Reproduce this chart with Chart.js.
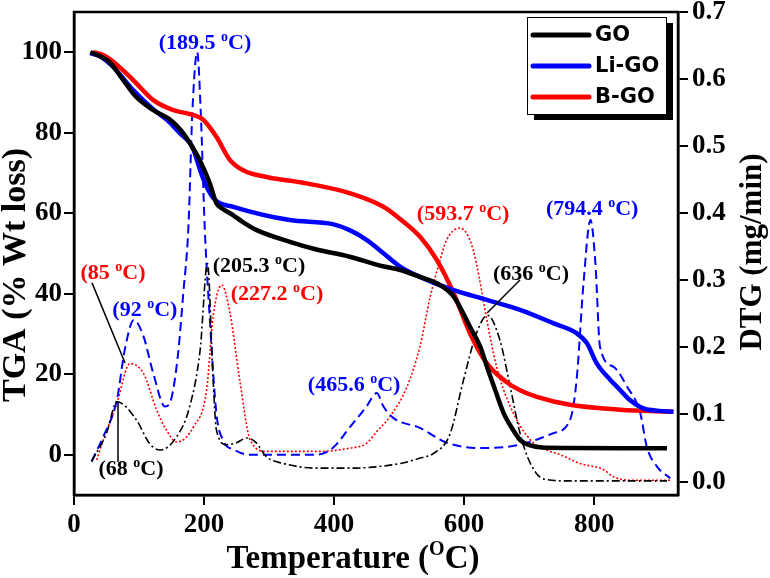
<!DOCTYPE html>
<html><head><meta charset="utf-8">
<script src="https://cdn.jsdelivr.net/npm/chart.js@4/dist/chart.umd.min.js"></script>
<style>html,body{margin:0;padding:0;background:#fff;} canvas{display:block;}</style>
</head><body>
<canvas id="c" width="770" height="578"></canvas>
<script>
// ---------- DATA ----------
const seriesNames = ['GO', 'Li-GO', 'B-GO'];
const xTicks = [0, 200, 400, 600, 800];
const tgaTicks = [0, 20, 40, 60, 80, 100];
const dtgTicks = [0.0, 0.1, 0.2, 0.3, 0.4, 0.5, 0.6, 0.7];

// TGA (% weight), left axis
const goT   = [25, 40, 55, 76, 95, 122, 150, 165, 178, 194, 209, 219, 228, 245, 258, 281, 332, 373, 424, 471, 502, 532, 558, 584, 609, 625, 635, 648, 661, 676, 686, 702, 720, 760, 912];
const goTGA = [100, 99, 97.5, 93, 89, 85.6, 83, 80.5, 77.5, 73, 67.4, 62.5, 61.2, 59.5, 58, 55.8, 52.9, 51, 49.2, 47, 45.9, 44.2, 42.6, 39.3, 31.8, 26.8, 21.9, 16, 10.3, 6, 3.7, 2.3, 1.8, 1.7, 1.6];

const liT   = [25, 40, 60, 91, 122, 143, 163, 178, 184, 194, 204, 217, 245, 332, 398, 424, 450, 475, 502, 532, 584, 635, 686, 737, 773, 789, 804, 825, 840, 855, 876, 900, 922];
const liTGA = [99.8, 99, 96.4, 90.6, 85.8, 83.2, 79.9, 77.5, 75.7, 70.7, 66.6, 63.3, 61.6, 58.3, 57.3, 55.8, 53.4, 50.2, 46.7, 44.2, 40.9, 38.5, 36, 32.7, 30.2, 27.7, 22.7, 18.6, 16.1, 13.6, 11.5, 10.9, 10.7];

const bT    = [29, 45, 60, 91, 122, 153, 184, 199, 219, 240, 260, 300, 348, 424, 476, 502, 532, 558, 584, 609, 635, 661, 686, 712, 763, 840, 922];
const bTGA  = [100, 99.3, 97.7, 93.1, 88.1, 85.6, 84.4, 83.2, 79, 73.2, 70.7, 68.9, 67.7, 65, 61.6, 58.5, 54.2, 48.4, 40.1, 30.2, 22.7, 18.6, 16, 14.4, 12.4, 11.2, 10.7];

// DTG (mg/min), right axis
const goDT  = [27, 50, 66, 96, 116, 132, 158, 178, 194, 205.3, 214, 219, 235, 250, 266, 280, 296, 322, 373, 424, 502, 532, 553, 578, 599, 619, 636, 655, 671, 686, 702, 722, 760, 912];
const goDTG = [0.03, 0.072, 0.119, 0.092, 0.057, 0.047, 0.067, 0.112, 0.196, 0.325, 0.151, 0.077, 0.055, 0.058, 0.065, 0.058, 0.037, 0.027, 0.020, 0.020, 0.027, 0.035, 0.042, 0.07, 0.151, 0.221, 0.248, 0.211, 0.141, 0.072, 0.027, 0.004, 0.001, 0.001];

const liDT  = [27, 45, 66, 78, 92, 107, 122, 140, 150, 160, 168, 176, 182, 189.5, 195, 201, 209, 219, 230, 245, 271, 373, 398, 425, 450, 465.6, 476, 491, 532, 573, 625, 686, 737, 763, 773, 784, 794.4, 802, 809, 830, 851, 871, 881, 897, 917];
const liDTG = [0.03, 0.067, 0.122, 0.196, 0.241, 0.216, 0.161, 0.112, 0.125, 0.19, 0.28, 0.38, 0.55, 0.64, 0.55, 0.38, 0.241, 0.102, 0.06, 0.048, 0.040, 0.040, 0.05, 0.082, 0.112, 0.132, 0.112, 0.095, 0.08, 0.058, 0.050, 0.055, 0.072, 0.092, 0.151, 0.30, 0.39, 0.325, 0.201, 0.171, 0.141, 0.102, 0.052, 0.022, 0.005];

const bDT   = [35, 45, 66, 86, 107, 127, 142, 158, 184, 204, 214, 227.2, 240, 255, 271, 296, 373, 425, 450, 466, 486, 512, 532, 548, 563, 573, 593.7, 609, 619, 635, 650, 671, 702, 727, 748, 778, 814, 830, 855, 917];
const bDTG  = [0.032, 0.062, 0.117, 0.176, 0.161, 0.107, 0.077, 0.059, 0.082, 0.137, 0.246, 0.293, 0.251, 0.151, 0.062, 0.045, 0.045, 0.050, 0.057, 0.075, 0.097, 0.141, 0.201, 0.276, 0.33, 0.36, 0.378, 0.36, 0.325, 0.241, 0.171, 0.112, 0.062, 0.047, 0.04, 0.027, 0.018, 0.007, 0.002, 0.002];

// peak annotations (text in data units: x = temperature, y = TGA axis)
const annoText  = ['(189.5 ', '(85 ', '(92 ', '(205.3 ', '(227.2 ', '(68 ', '(465.6 ', '(593.7 ', '(794.4 ', '(636 '];
const annoX     = [201.5, 60, 109, 284.6, 312.3, 87.7, 430.8, 598.5, 797, 703];
const annoY     = [102.5, 45.4, 36.2, 47.1, 40.2, -3.3, 17.6, 60.1, 61.3, 45.2];
const annoColor = ['#0000ff', '#ff0000', '#0000ff', '#000', '#ff0000', '#000', '#0000ff', '#ff0000', '#0000ff', '#000'];
// leader lines [x1, y1, x2, y2] in data units (TGA axis)
const leaderLines = [[27.7, 42.7, 78.5, 22.8], [67.7, -1.8, 67.7, 13.1], [686, 43.4, 635.4, 35.2]];

// ---------- CHART ----------
const SERIF = "'Liberation Serif','Times New Roman',serif";
const pts = (xs, ys) => xs.map((x, i) => ({ x: x, y: ys[i] }));
const BLACK = '#000000', BLUE = '#0000ff', RED = '#ff0000';

function supText(ctx, pre, sup, post, cx, cy, size, weight) {
  const f1 = weight + ' ' + size + 'px ' + SERIF;
  const f2 = weight + ' ' + Math.round(size * 0.62) + 'px ' + SERIF;
  ctx.font = f1; const w1 = ctx.measureText(pre).width; const w3 = ctx.measureText(post).width;
  ctx.font = f2; const w2 = ctx.measureText(sup).width;
  const tot = w1 + w2 + w3;
  let x = cx - tot / 2;
  const base = cy + size * 0.33;
  ctx.textAlign = 'left'; ctx.textBaseline = 'alphabetic';
  ctx.font = f1; ctx.fillText(pre, x, base); x += w1;
  ctx.font = f2; ctx.fillText(sup, x, base - size * 0.38); x += w2;
  ctx.font = f1; ctx.fillText(post, x, base);
}

const overlay = {
  id: 'overlay',
  afterDatasetsDraw(chart) {
    const ctx = chart.ctx, a = chart.chartArea;
    const xs = chart.scales.x, ys = chart.scales.y;
    ctx.save();
    ctx.strokeStyle = '#000'; ctx.lineWidth = 2.5;
    ctx.strokeRect(a.left, a.top, a.right - a.left, a.bottom - a.top);
    ctx.lineWidth = 1.5;
    leaderLines.forEach(l => {
      ctx.beginPath();
      ctx.moveTo(xs.getPixelForValue(l[0]), ys.getPixelForValue(l[1]));
      ctx.lineTo(xs.getPixelForValue(l[2]), ys.getPixelForValue(l[3]));
      ctx.stroke();
    });
    annoText.forEach((t, i) => {
      ctx.fillStyle = annoColor[i];
      supText(ctx, t, 'o', 'C)', xs.getPixelForValue(annoX[i]), ys.getPixelForValue(annoY[i]), 22, 'bold');
    });
    // legend with shadow
    const lx = 527, ly = 17, lw = 139, lh = 97;
    ctx.fillStyle = '#000'; ctx.fillRect(lx + 7, ly + 6, lw, lh);
    ctx.fillStyle = '#fff'; ctx.fillRect(lx, ly, lw, lh);
    ctx.strokeStyle = '#000'; ctx.lineWidth = 1; ctx.strokeRect(lx + 0.5, ly + 0.5, lw, lh);
    ctx.font = "bold 21px 'DejaVu Sans', Verdana, sans-serif";
    ctx.textAlign = 'left'; ctx.textBaseline = 'middle';
    for (let i = 0; i < 3; i++) {
      const ds = chart.data.datasets[i];
      const yy = ly + 18 + i * 31;
      ctx.strokeStyle = ds.borderColor; ctx.lineWidth = 5; ctx.lineCap = 'round';
      ctx.beginPath(); ctx.moveTo(lx + 6, yy); ctx.lineTo(lx + 62, yy); ctx.stroke();
      ctx.fillStyle = '#000'; ctx.fillText(ds.label, lx + 68, yy + 1);
    }
    ctx.restore();
  },
  afterDraw(chart) {
    const ctx = chart.ctx;
    ctx.save(); ctx.fillStyle = '#000';
    ctx.save(); ctx.translate(16, 275); ctx.rotate(-Math.PI / 2);
    ctx.font = 'bold 34px ' + SERIF; ctx.textAlign = 'center'; ctx.textBaseline = 'middle';
    ctx.fillText('TGA (% Wt loss)', 0, 0); ctx.restore();
    ctx.save(); ctx.translate(753, 252); ctx.rotate(-Math.PI / 2);
    ctx.font = 'bold 31px ' + SERIF; ctx.textAlign = 'center'; ctx.textBaseline = 'middle';
    ctx.fillText('DTG (mg/min)', 0, 0); ctx.restore();
    supText(ctx, 'Temperature (', 'O', 'C)', 353, 557, 33, 'bold');
    ctx.restore();
  }
};

const tickFont = { family: SERIF, size: 27, weight: 'bold' };
const gridOpts = { display: true, drawOnChartArea: false, drawTicks: true, tickLength: 10, lineWidth: 2, color: '#000' };
const borderOpts = { display: true, width: 2.5, color: '#000' };
const noPadV = s => { s.paddingTop = 0; s.paddingBottom = 0; };

new Chart(document.getElementById('c'), {
  type: 'line',
  data: {
    datasets: [
      { label: seriesNames[0], data: pts(goT, goTGA), yAxisID: 'y', borderColor: BLACK, borderWidth: 4.5 },
      { label: seriesNames[1], data: pts(liT, liTGA), yAxisID: 'y', borderColor: BLUE, borderWidth: 4.5 },
      { label: seriesNames[2], data: pts(bT, bTGA), yAxisID: 'y', borderColor: RED, borderWidth: 4.5 },
      { label: seriesNames[0] + ' DTG', data: pts(goDT, goDTG), yAxisID: 'y1', borderColor: BLACK, borderWidth: 1.6, borderDash: [8, 3, 2, 3] },
      { label: seriesNames[1] + ' DTG', data: pts(liDT, liDTG), yAxisID: 'y1', borderColor: BLUE, borderWidth: 2, borderDash: [9, 5] },
      { label: seriesNames[2] + ' DTG', data: pts(bDT, bDTG), yAxisID: 'y1', borderColor: RED, borderWidth: 1.6, borderDash: [2, 2] }
    ]
  },
  options: {
    responsive: false, animation: false, devicePixelRatio: 1,
    layout: { padding: { top: 12, left: 0, right: 0, bottom: 0 } },
    elements: { point: { radius: 0 }, line: { cubicInterpolationMode: 'monotone', fill: false, borderCapStyle: 'butt' } },
    plugins: { legend: { display: false }, tooltip: { enabled: false } },
    scales: {
      x: {
        type: 'linear', min: 0, max: 929,
        afterBuildTicks: s => { s.ticks = xTicks.map(v => ({ value: v })); },
        afterFit: s => { s.height = 83; s.paddingLeft = 0; s.paddingRight = 0; },
        ticks: { font: tickFont, color: '#000', padding: 4, maxRotation: 0 },
        grid: gridOpts, border: borderOpts
      },
      y: {
        type: 'linear', position: 'left', min: -10, max: 110,
        afterBuildTicks: s => { s.ticks = tgaTicks.map(v => ({ value: v })); },
        afterFit: s => { s.width = 74; noPadV(s); },
        ticks: { font: tickFont, color: '#000', padding: 2 },
        grid: gridOpts, border: borderOpts
      },
      y1: {
        type: 'linear', position: 'right', min: -0.02, max: 0.7,
        afterBuildTicks: s => { s.ticks = dtgTicks.map(v => ({ value: v })); },
        afterFit: s => { s.width = 92; noPadV(s); },
        ticks: { font: tickFont, color: '#000', padding: 4, callback: v => Number(v).toFixed(1) },
        grid: gridOpts, border: borderOpts
      }
    }
  },
  plugins: [overlay]
});
</script>
</body></html>
